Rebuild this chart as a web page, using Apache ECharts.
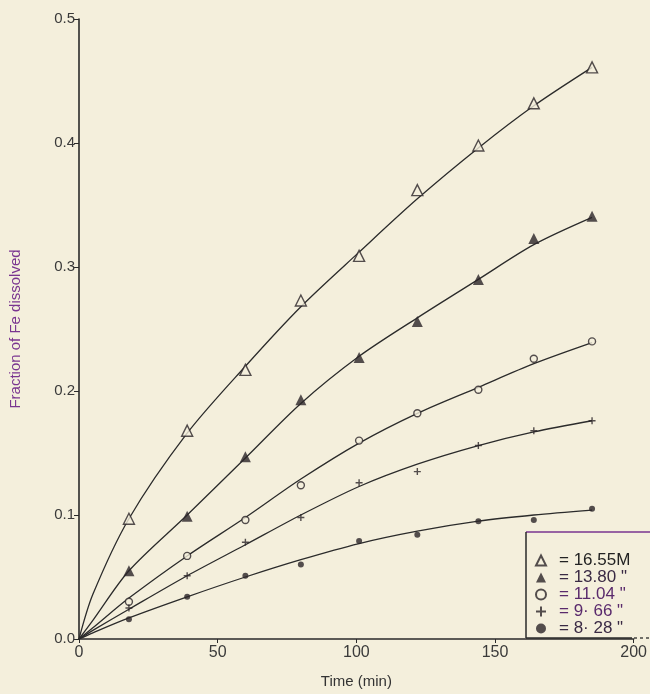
<!DOCTYPE html>
<html>
<head>
<meta charset="utf-8">
<script src="https://cdn.jsdelivr.net/npm/echarts@6/dist/echarts.min.js"></script>
<style>
  html, body { margin: 0; padding: 0; background: #f4efdc; }
  #chart { width: 650px; height: 694px; }
</style>
</head>
<body>
<div id="chart"></div>
<script>
// sampling times (min)
const times = [18, 39, 60, 80, 101, 122, 144, 164, 185];

// measured fraction of Fe dissolved, one array per acid concentration
const fe1655 = [0.097, 0.168, 0.217, 0.273, 0.309, 0.362, 0.398, 0.432, 0.461];
const fe1380 = [0.055, 0.099, 0.147, 0.193, 0.227, 0.256, 0.290, 0.323, 0.341];
const fe1104 = [0.030, 0.067, 0.096, 0.124, 0.160, 0.182, 0.201, 0.226, 0.240];
const fe966 = [0.025, 0.051, 0.078, 0.098, 0.126, 0.135, 0.156, 0.168, 0.176];
const fe828 = [0.016, 0.034, 0.051, 0.060, 0.079, 0.084, 0.095, 0.096, 0.105];

// hand-drawn fitted curves
const curveTimes = [0, 5, 18, 39, 60, 80, 101, 122, 144, 164, 185];
const c1655 = [0, 0.036, 0.097, 0.166, 0.220, 0.268, 0.312, 0.355, 0.396, 0.430, 0.461];
const c1380 = [0, 0.015, 0.055, 0.100, 0.146, 0.190, 0.228, 0.259, 0.290, 0.318, 0.340];
const c1104 = [0, 0.009, 0.033, 0.067, 0.098, 0.129, 0.158, 0.182, 0.203, 0.222, 0.239];
const c966 = [0, 0.007, 0.024, 0.051, 0.076, 0.100, 0.123, 0.141, 0.156, 0.167, 0.176];
const c828 = [0, 0.005, 0.017, 0.034, 0.050, 0.064, 0.077, 0.087, 0.095, 0.100, 0.104];

const legendNames = ['= 16.55M', '= 13.80 "', '= 11.04 "', '= 9· 66 "', '= 8· 28 "'];
const xTicks = [0, 50, 100, 150, 200];

const paper = '#f4efdc';
const ink = '#2a2428';
const plusPath = 'path://M4,0H6V4H10V6H6V10H4V6H0V4H4Z';

const zip = (xs, ys) => xs.map((x, i) => [x, ys[i]]);

const curve = (ys) => ({
  type: 'line',
  data: zip(curveTimes, ys),
  smooth: 0.3,
  symbol: 'none',
  silent: true,
  lineStyle: { color: '#2b2b2b', width: 1.3 },
  z: 2,
});

const marks = (name, ys, symbol, size, hollow) => ({
  name,
  type: 'scatter',
  data: zip(times, ys),
  symbol,
  symbolSize: size,
  itemStyle: hollow
    ? { color: paper, borderColor: ink, borderWidth: 1.4 }
    : { color: ink },
  z: 3,
});

const chart = echarts.init(document.getElementById('chart'));

chart.setOption({
  backgroundColor: paper,
  animation: false,
  grid: { left: 76, right: 6, top: 19, bottom: 52 },
  xAxis: {
    type: 'value',
    min: 0,
    max: 200,
    interval: 50,
    name: 'Time (min)',
    nameLocation: 'middle',
    nameGap: 35,
    nameTextStyle: { color: '#333', fontSize: 15, fontFamily: 'Liberation Sans' },
    axisLine: { lineStyle: { color: '#2a2a2a', width: 1.6 } },
    axisTick: { length: 4, lineStyle: { color: '#2a2a2a' } },
    axisLabel: {
      color: '#3a3a3a',
      fontSize: 16,
      fontFamily: 'Liberation Sans',
      margin: 6,
      customValues: xTicks,
    },
    splitLine: { show: false },
  },
  yAxis: {
    type: 'value',
    min: 0,
    max: 0.5,
    interval: 0.1,
    name: 'Fraction of Fe dissolved',
    nameLocation: 'middle',
    nameGap: 56,
    nameTextStyle: { color: '#7a3590', fontSize: 15, fontFamily: 'Liberation Sans' },
    axisLine: { show: true, lineStyle: { color: '#2a2a2a', width: 1.6 } },
    axisTick: { show: true, length: 5, lineStyle: { color: '#2a2a2a' } },
    axisLabel: {
      color: '#3a3a3a',
      fontSize: 15,
      fontFamily: 'Liberation Sans',
      margin: 4,
      formatter: (v) => v.toFixed(1),
    },
    splitLine: { show: false },
  },
  legend: {
    orient: 'vertical',
    left: 535,
    top: 552,
    itemGap: 0,
    itemWidth: 10,
    itemHeight: 10,
    padding: 0,
    selectedMode: false,
    textStyle: {
      fontSize: 17,
      lineHeight: 17,
      fontFamily: 'Liberation Sans',
      color: '#3a2a44',
      padding: [0, 0, 0, 8],
    },
    data: [
      { name: legendNames[0], textStyle: { color: '#222' } },
      { name: legendNames[1] },
      { name: legendNames[2], textStyle: { color: '#5a2a6c' } },
      { name: legendNames[3], textStyle: { color: '#5a2a6c' } },
      { name: legendNames[4] },
    ],
  },
  graphic: [
    // partial legend frame, runs off the right edge like the scan
    { type: 'line', shape: { x1: 526, y1: 532, x2: 650, y2: 532 }, style: { stroke: '#7a3590', lineWidth: 1.5 } },
    { type: 'line', shape: { x1: 526, y1: 532, x2: 526, y2: 638 }, style: { stroke: '#2a2a2a', lineWidth: 1.5 } },
    { type: 'line', shape: { x1: 526, y1: 638, x2: 632, y2: 638 }, style: { stroke: '#2a2a2a', lineWidth: 1.3 } },
    { type: 'line', shape: { x1: 634, y1: 638, x2: 650, y2: 638 }, style: { stroke: '#2a2a2a', lineWidth: 1.3, lineDash: [3, 3] } },
  ],
  series: [
    curve(c1655),
    curve(c1380),
    curve(c1104),
    curve(c966),
    curve(c828),
    marks(legendNames[0], fe1655, 'triangle', 11, true),
    marks(legendNames[1], fe1380, 'triangle', 11, false),
    marks(legendNames[2], fe1104, 'circle', 7, true),
    marks(legendNames[3], fe966, plusPath, 7, false),
    marks(legendNames[4], fe828, 'circle', 6, false),
  ],
});
</script>
</body>
</html>
